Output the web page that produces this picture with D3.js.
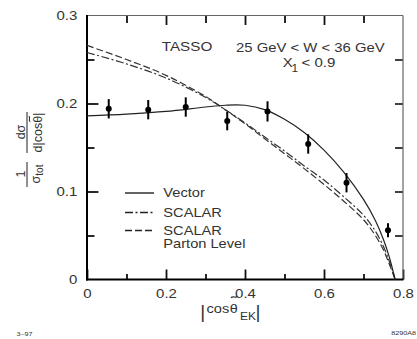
<!DOCTYPE html>
<html><head><meta charset="utf-8">
<script src="https://cdn.jsdelivr.net/npm/d3@7"></script>
<style>
html,body{margin:0;padding:0;background:#fff;}
text{font-family:"Liberation Sans",Arial,sans-serif;fill:#333;}
</style></head>
<body><svg id="c" width="417" height="339"></svg>
<script>
// ---- data ----
const pointX   = [0.055, 0.155, 0.25, 0.355, 0.457, 0.56, 0.657, 0.762];
const pointY   = [0.194, 0.193, 0.196, 0.180, 0.191, 0.154, 0.110, 0.056];
const pointErr = [0.011, 0.011, 0.011, 0.0105, 0.0115, 0.011, 0.011, 0.008];

const vectorX = [0, 0.1, 0.2, 0.3, 0.35, 0.4, 0.45, 0.5, 0.55, 0.6, 0.65, 0.7, 0.73, 0.75, 0.765, 0.78];
const vectorY = [0.186, 0.188, 0.191, 0.196, 0.198, 0.198, 0.193, 0.182, 0.167, 0.147, 0.122, 0.091, 0.067, 0.046, 0.026, 0.0];

const scalarX = [0, 0.1, 0.2, 0.3, 0.35, 0.4, 0.45, 0.5, 0.55, 0.6, 0.65, 0.7, 0.73, 0.75, 0.765, 0.775, 0.78];
const scalarY = [0.258, 0.245, 0.229, 0.207, 0.193, 0.178, 0.162, 0.146, 0.129, 0.113, 0.094, 0.073, 0.055, 0.038, 0.021, 0.008, 0.0];

const partonX = [0, 0.1, 0.2, 0.3, 0.35, 0.4, 0.45, 0.5, 0.55, 0.6, 0.65, 0.7, 0.73, 0.75, 0.765, 0.775, 0.78];
const partonY = [0.266, 0.250, 0.232, 0.208, 0.193, 0.177, 0.160, 0.143, 0.126, 0.108, 0.089, 0.068, 0.050, 0.034, 0.018, 0.006, 0.0];

const xMajorTicks = [0, 0.2, 0.4, 0.6, 0.8];
const xMinorTicks = [0.1, 0.3, 0.5, 0.7];
const yMajorTicks = [0, 0.1, 0.2, 0.3];
const yMinorTicks = [0.05, 0.15, 0.25];
const xTickLabels = ["0", "0.2", "0.4", "0.6", "0.8"];
const yTickLabels = ["0", "0.1", "0.2", "0.3"];

const legendLabels = ["Vector", "SCALAR", "SCALAR"];

// ---- layout ----
const L = 87, R = 403, T = 15.5, B = 279.5;
const SX = 1.2; // horizontal stretch of glyphs
const svg = d3.select("#c");
const x = d3.scaleLinear().domain([0, 0.8]).range([L, R]);
const y = d3.scaleLinear().domain([0, 0.3]).range([B, T]);

function txt(parent, px, py, str, size, anchor, sx) {
  const t = parent.append("text")
    .attr("transform", `translate(${px},${py}) scale(${sx === undefined ? SX : sx},1)`)
    .attr("font-size", size)
    .attr("text-anchor", anchor || "start");
  if (str !== null) t.text(str);
  return t;
}
function tilde(parent, cx, cy, w) {
  const h = w * 0.22;
  parent.append("path")
    .attr("d", `M${cx - w / 2},${cy + h * 0.6} C${cx - w / 4},${cy - h * 1.4} ${cx + w / 4},${cy + h * 1.4} ${cx + w / 2},${cy - h * 0.6}`)
    .attr("fill", "none").attr("stroke", "#333").attr("stroke-width", 1.1);
}

// ---- axes ----
function styleAxis(g, w) {
  g.select(".domain").remove();
  g.selectAll(".tick line").attr("stroke", "#111").attr("stroke-width", w);
}
const xfmt = (d) => xTickLabels[xMajorTicks.indexOf(d)];
const yfmt = (d) => yTickLabels[yMajorTicks.indexOf(d)];

// bottom
const gb = svg.append("g").attr("transform", `translate(0,${B})`)
  .call(d3.axisBottom(x).tickValues(xMajorTicks).tickFormat(xfmt).tickSizeInner(-10).tickSizeOuter(0).tickPadding(9.3));
styleAxis(gb, 1.8);
gb.selectAll(".tick text").attr("font-size", 12.5).attr("fill", "#333")
  .attr("transform", `scale(${SX},1)`).style("font-family", '"Liberation Sans",Arial,sans-serif');
const gbm = svg.append("g").attr("transform", `translate(0,${B})`)
  .call(d3.axisBottom(x).tickValues(xMinorTicks).tickFormat("").tickSizeInner(-5.5).tickSizeOuter(0));
styleAxis(gbm, 1.8);
// top
const gt = svg.append("g").attr("transform", `translate(0,${T})`)
  .call(d3.axisTop(x).tickValues(xMajorTicks.slice(1, 4)).tickFormat("").tickSizeInner(-9.5).tickSizeOuter(0));
styleAxis(gt, 1.8);
const gtm = svg.append("g").attr("transform", `translate(0,${T})`)
  .call(d3.axisTop(x).tickValues(xMinorTicks).tickFormat("").tickSizeInner(-7.5).tickSizeOuter(0));
styleAxis(gtm, 1.8);
// left
const gl = svg.append("g").attr("transform", `translate(${L},0)`)
  .call(d3.axisLeft(y).tickValues(yMajorTicks).tickFormat(yfmt).tickSizeInner(-11.5).tickSizeOuter(0).tickPadding(9.7));
styleAxis(gl, 1.8);
gl.selectAll(".tick text").attr("font-size", 12.5).attr("fill", "#333")
  .attr("x", -9.7 / SX).attr("transform", `scale(${SX},1)`).style("font-family", '"Liberation Sans",Arial,sans-serif');
gl.selectAll(".tick").filter(d => d === 0 || d === 0.3).select("line").remove();
const glm = svg.append("g").attr("transform", `translate(${L},0)`)
  .call(d3.axisLeft(y).tickValues(yMinorTicks).tickFormat("").tickSizeInner(-7.5).tickSizeOuter(0));
styleAxis(glm, 1.8);
// right
const gr = svg.append("g").attr("transform", `translate(${R},0)`)
  .call(d3.axisRight(y).tickValues(yMajorTicks.slice(1, 3).concat(yMinorTicks)).tickFormat("").tickSizeInner(-8).tickSizeOuter(0));
styleAxis(gr, 1.6);

// frame
svg.append("line").attr("x1", L).attr("x2", R).attr("y1", T).attr("y2", T).attr("stroke", "#666").attr("stroke-width", 1.2);
svg.append("line").attr("x1", R).attr("x2", R).attr("y1", T).attr("y2", B).attr("stroke", "#666").attr("stroke-width", 1.2);
svg.append("line").attr("x1", L).attr("x2", L).attr("y1", T - 0.5).attr("y2", B + 1).attr("stroke", "#000").attr("stroke-width", 2);
svg.append("line").attr("x1", L - 1).attr("x2", R + 0.5).attr("y1", B).attr("y2", B).attr("stroke", "#000").attr("stroke-width", 2);

// ---- curves ----
const line = d3.line().x(d => x(d[0])).y(d => y(d[1])).curve(d3.curveCatmullRom.alpha(0.5));
const zip = (a, b) => a.map((v, i) => [v, b[i]]);
svg.append("path").attr("d", line(zip(partonX, partonY))).attr("fill", "none")
  .attr("stroke", "#333").attr("stroke-width", 1.2).attr("stroke-dasharray", "7,3");
svg.append("path").attr("d", line(zip(scalarX, scalarY))).attr("fill", "none")
  .attr("stroke", "#333").attr("stroke-width", 1.2).attr("stroke-dasharray", "8,2.5,2,2.5");
svg.append("path").attr("d", line(zip(vectorX, vectorY))).attr("fill", "none")
  .attr("stroke", "#222").attr("stroke-width", 1.2);

// ---- data points ----
const pts = svg.append("g");
pointX.forEach((px, i) => {
  pts.append("line").attr("x1", x(px)).attr("x2", x(px))
    .attr("y1", y(pointY[i] - pointErr[i])).attr("y2", y(pointY[i] + pointErr[i]))
    .attr("stroke", "#000").attr("stroke-width", 2);
  pts.append("circle").attr("cx", x(px)).attr("cy", y(pointY[i])).attr("r", 3).attr("fill", "#000");
});

// ---- legend ----
const lg = svg.append("g");
const legY = [193, 212.5, 230.5];
const dashes = [null, "8,2.5,2,2.5", "7,3"];
legY.forEach((ly, i) => {
  lg.append("line").attr("x1", 125).attr("x2", 154).attr("y1", ly).attr("y2", ly)
    .attr("stroke", "#222").attr("stroke-width", 1.4).attr("stroke-dasharray", dashes[i]);
  txt(lg, 163.3, ly + 4.3, legendLabels[i], 12.2);
});
txt(lg, 163.3, 247.5, "Parton Level", 12.2);

// ---- annotations ----
txt(svg, 161.7, 50.6, "TASSO", 12.5, "start", 1.22);
txt(svg, 236, 51.5, "25 GeV < W < 36 GeV", 12.5, "start", 1.19);
txt(svg, 282.7, 66.6, "X", 12.5, "start", 1.2);
txt(svg, 291.5, 71.5, "1", 10, "start", 1.2);
txt(svg, 301.5, 66.6, "< 0.9", 12.5, "start", 1.2);

// ---- x axis title ----
txt(svg, 202.7, 318, "|", 19, "middle", 1);
txt(svg, 206.5, 313, "cos", 12, "start", 1.22);
txt(svg, 229.8, 313, "θ", 12.5, "start", 1.15);
tilde(svg, 234.5, 297, 7);
txt(svg, 240, 320, "EK", 10, "start", 1.2);
txt(svg, 258, 318, "|", 19, "middle", 1);

// ---- y axis title (rotated) ----
const yt = svg.append("g").attr("transform", "rotate(-90)");
yt.append("text").attr("x", -174).attr("y", 24.5).attr("font-size", 12.5).attr("text-anchor", "middle").text("1");
yt.append("line").attr("x1", -187).attr("x2", -162).attr("y1", 27).attr("y2", 27).attr("stroke", "#333").attr("stroke-width", 1.1);
const st = yt.append("text").attr("x", -174).attr("y", 40).attr("font-size", 12.5).attr("text-anchor", "middle");
st.append("tspan").text("σ");
st.append("tspan").attr("font-size", 10).attr("dy", 2.5).text("tot");
yt.append("text").attr("x", -132).attr("y", 24.5).attr("font-size", 12.5).attr("text-anchor", "middle").text("dσ");
yt.append("line").attr("x1", -153).attr("x2", -112).attr("y1", 27).attr("y2", 27).attr("stroke", "#333").attr("stroke-width", 1.1);
yt.append("text").attr("x", -132.5).attr("y", 41.5).attr("font-size", 12.5).attr("text-anchor", "middle").text("d|cosθ|");
tilde(yt, -119, 29.5, 5.5);

// ---- footer codes ----
txt(svg, 16.5, 335.5, "3–97", 6, "start", 1.2);
txt(svg, 416, 335, "8290A8", 6, "end", 1.2);
</script>
</body></html>
